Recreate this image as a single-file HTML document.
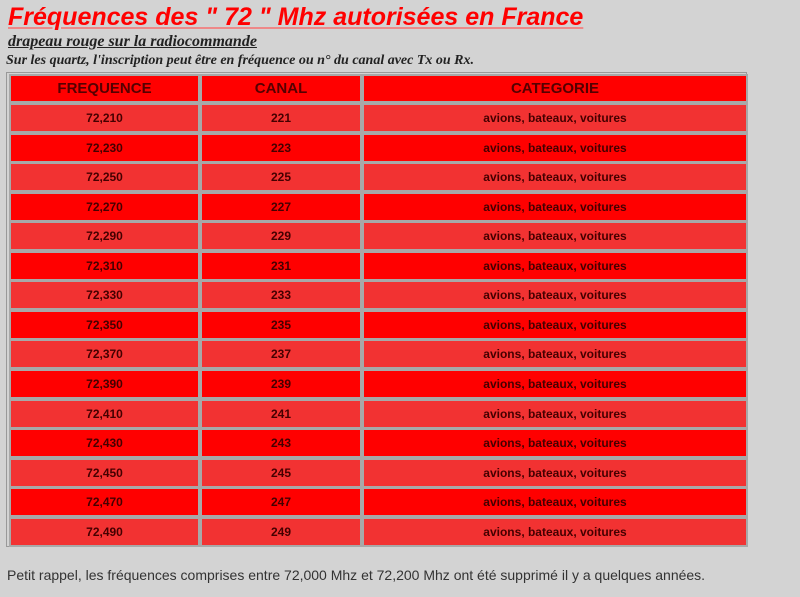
<!DOCTYPE html>
<html><head><meta charset="utf-8"><style>
body{margin:0;width:800px;height:597px;background:#d3d3d3;position:relative;overflow:hidden;font-family:"Liberation Sans",sans-serif}
.abs{position:absolute;white-space:nowrap}
#title{left:8px;top:3px;font-size:25px;font-weight:bold;font-style:italic;color:#f00;text-decoration:underline;text-decoration-color:#e88}
#sub{left:8px;top:33px;font-family:"Liberation Serif",serif;font-size:16px;font-weight:bold;font-style:italic;text-decoration:underline;color:#222}
#sub2{left:6px;top:53px;font-family:"Liberation Serif",serif;font-size:14px;font-weight:bold;font-style:italic;color:#222}
#tbl{left:6px;top:72px;width:741px;height:475px;border:1px solid #999;box-sizing:border-box}
.cell{position:absolute;box-sizing:border-box;border:2px solid #a8a8a8;display:flex;align-items:center;justify-content:center;font-weight:bold;font-size:12px;color:#400}
.hd{font-size:15px;background:#f00;color:#500}
#foot{left:7px;top:567px;font-size:14px;color:#333}
</style></head><body>
<div class="abs" id="title">Fréquences des " 72 " Mhz autorisées en France</div>
<div class="abs" id="sub">drapeau rouge sur la radiocommande</div>
<div class="abs" id="sub2">Sur les quartz, l'inscription peut être en fréquence ou n° du canal avec Tx ou Rx.</div>
<div class="abs" id="tbl"></div>
<div class="abs" id="foot">Petit rappel, les fréquences comprises entre 72,000 Mhz et 72,200 Mhz ont été supprimé il y a quelques années.</div>
<script>
const freqs=["72,210","72,230","72,250","72,270","72,290","72,310","72,330","72,350","72,370","72,390","72,410","72,430","72,450","72,470","72,490"];
const canals=["221","223","225","227","229","231","233","235","237","239","241","243","245","247","249"];
const cat="avions, bateaux, voitures";
const cols=[[9,191],[200,162],[362,386]];
function cell(x,y,w,h,t,cls,bg,name){
  const d=document.createElement('div');
  
  
  d.className='cell '+cls;d.style.left=x+'px';d.style.top=y+'px';d.style.width=w+'px';d.style.height=h+'px';
  if(bg)d.style.background=bg;d.textContent=t;document.body.appendChild(d);
}
const hdr=["FREQUENCE","CANAL","CATEGORIE"];
hdr.forEach((t,i)=>cell(cols[i][0],74,cols[i][1],29,t,'hd',null,'header-cell'));
freqs.forEach((f,r)=>{
  const y=103+r*29.55, bg=r%2?'#ff0000':'#f23232';
  const vals=[f,canals[r],cat];
  vals.forEach((v,i)=>cell(cols[i][0],Math.round(y),cols[i][1],30,v,'',bg,'table-cell'));
});
</script>
</body></html>
